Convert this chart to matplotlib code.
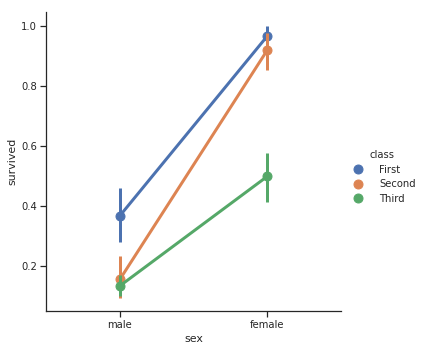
import matplotlib
matplotlib.use("Agg")
import matplotlib.pyplot as plt
import seaborn as sns
import numpy as np

sns.set_theme(style="ticks")
plt.rcParams['font.family'] = ['DejaVu Sans']

# survival rate by sex and passenger class
sexes = ["male", "female"]
classes = ["First", "Second", "Third"]
means = {
    "First": [0.369, 0.968],
    "Second": [0.157, 0.921],
    "Third": [0.135, 0.500],
}
ci_low = {
    "First": [0.280, 0.930],
    "Second": [0.094, 0.854],
    "Third": [0.101, 0.415],
}
ci_high = {
    "First": [0.460, 1.000],
    "Second": [0.234, 0.977],
    "Third": [0.171, 0.577],
}
colors = sns.color_palette("deep", 3)

fig = plt.figure(figsize=(424 / 72, 352 / 72), dpi=72)
ax = fig.add_axes([46.3 / 424, 1 - 311 / 352, (341 - 46.3) / 424, (311 - 12.3) / 352])

x = np.arange(len(sexes))
for cls, c in zip(classes, colors):
    ax.vlines(x, ci_low[cls], ci_high[cls], color=c, lw=3)
    ax.plot(x, means[cls], "-o", color=c, lw=3, ms=9, label=cls)

ax.set_xticks(x, sexes)
ax.set_xlim(-0.5, 1.5)
ax.set_ylim(0.051, 1.047)
ax.set_yticks([0.2, 0.4, 0.6, 0.8, 1.0])
ax.set_xlabel("sex", fontsize=11)
ax.set_ylabel("survived", fontsize=11)
ax.tick_params(labelsize=10)
sns.despine(ax=ax)

handles = [plt.Line2D([], [], marker="o", ls="", color=c, ms=9) for c in colors]
fig.legend(handles, classes, title="class", loc="center left",
           bbox_to_anchor=(339 / 424, 1 - 177 / 352), frameon=False,
           fontsize=10, title_fontsize=10, handletextpad=1.1,
           labelspacing=0.45)

fig.savefig("out.png", dpi=72)
